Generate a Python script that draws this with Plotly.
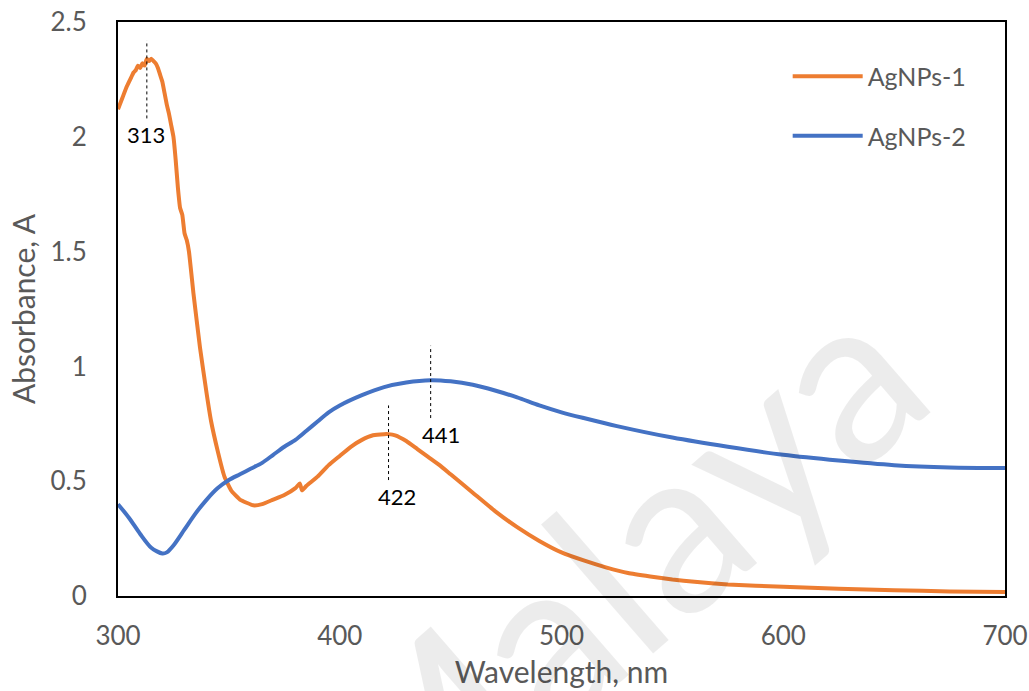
import plotly.graph_objects as go
import numpy as np

# ---------------- data ----------------
wl_1 = [300, 302, 304, 306, 307, 308, 309, 310, 311, 312, 313, 314, 315, 316, 317, 318, 319, 320,
        321, 322, 323, 324, 325, 326, 327, 328, 329, 330, 331, 332, 334, 337, 340, 342, 345, 348,
        351, 355, 361, 365, 370, 375, 380, 382, 383, 385, 390, 395, 400, 405, 410, 415, 420, 422,
        425, 430, 435, 440, 445, 450, 460, 470, 480, 490, 500, 510, 520, 530, 540, 550, 560, 575,
        600, 625, 650, 675, 700]
abs_1 = [2.12, 2.17, 2.22, 2.26, 2.28, 2.29, 2.31, 2.30, 2.32, 2.31, 2.34, 2.33, 2.34, 2.33, 2.32, 2.30, 2.27, 2.24,
         2.19, 2.14, 2.10, 2.05, 2.00, 1.90, 1.78, 1.69, 1.66, 1.58, 1.55, 1.50, 1.32, 1.08, 0.88, 0.76, 0.63, 0.52,
         0.46, 0.42, 0.395, 0.40, 0.42, 0.44, 0.47, 0.49, 0.46, 0.48, 0.52, 0.57, 0.61, 0.65, 0.68, 0.70, 0.705, 0.705,
         0.70, 0.675, 0.64, 0.605, 0.57, 0.53, 0.45, 0.37, 0.30, 0.24, 0.19, 0.155, 0.125, 0.10, 0.085, 0.072, 0.062, 0.05,
         0.04, 0.032, 0.025, 0.02, 0.017]

wl_2 = [300, 305, 310, 315, 320, 322, 325, 330, 335, 340, 345, 350, 355, 360, 365, 370, 375, 380, 385,
        390, 395, 400, 410, 420, 430, 441, 450, 460, 470, 480, 490, 500, 510, 525, 550, 575, 600, 625,
        650, 675, 700]
abs_2 = [0.40, 0.34, 0.27, 0.21, 0.185, 0.19, 0.22, 0.29, 0.36, 0.42, 0.47, 0.505, 0.53, 0.555, 0.58, 0.615, 0.65, 0.68, 0.72,
         0.76, 0.80, 0.83, 0.875, 0.91, 0.93, 0.94, 0.935, 0.92, 0.895, 0.865, 0.83, 0.80, 0.775, 0.74, 0.69, 0.65, 0.615, 0.59,
         0.57, 0.56, 0.557]

series_names = ["AgNPs-1", "AgNPs-2"]
series_colors = ["#ED7D31", "#4472C4"]

peak_wl = [313, 422, 441]
peak_series = [0, 0, 1]
peak_labels = ["313", "422", "441"]
peak_up = [0.08, 0.125, 0.15]      # dashed marker extent above the curve
peak_down = [0.26, 0.20, 0.165]    # dashed marker extent below the curve
peak_label_shift = [-1, 8, 10]

x_ticks = [300, 400, 500, 600, 700]
y_ticks = [0, 0.5, 1, 1.5, 2, 2.5]

FONT = "Lato, Carlito, Calibri, sans-serif"
GREY = "#595959"

fig = go.Figure()
xs = [wl_1, wl_2]
ys = [abs_1, abs_2]
for i in range(2):
    fig.add_trace(go.Scatter(
        x=xs[i], y=ys[i], mode="lines", name=series_names[i],
        legendgroup=series_names[i],
        line=dict(color=series_colors[i], width=4, shape="spline", smoothing=0.4 if i == 0 else 0.8),
    ))

# peak markers
for wl, si, lab, up, dn, sh in zip(peak_wl, peak_series, peak_labels, peak_up, peak_down, peak_label_shift):
    v = float(np.interp(wl, xs[si], ys[si]))
    fig.add_shape(type="line", xref="x", yref="y", x0=wl, x1=wl, y0=v - dn, y1=v + up,
                  line=dict(color="black", width=1, dash="dot"))
    fig.add_annotation(x=wl, y=v - dn, xref="x", yref="y", text=lab, showarrow=False,
                       yanchor="top", xanchor="center", xshift=sh, yshift=-1,
                       font=dict(family=FONT, size=22, color="black"))

# watermark
fig.add_annotation(x=0.553, y=0.04, xref="paper", yref="paper", text="Malaya", showarrow=False,
                   xanchor="center", yanchor="middle",
                   textangle=-41, font=dict(family=FONT, size=232, color="rgba(0,0,0,0.075)"))

fig.update_layout(
    width=1029, height=691,
    margin=dict(l=118, r=24, t=22, b=95, pad=0),
    paper_bgcolor="white", plot_bgcolor="white",
    font=dict(family=FONT, color=GREY, size=26),
    showlegend=True,
    legend=dict(x=0.755, y=0.945, xanchor="left", yanchor="top", bgcolor="rgba(0,0,0,0)",
                font=dict(family=FONT, size=25, color=GREY), itemwidth=70, tracegroupgap=24),
)
fig.update_xaxes(range=[300, 700], tickvals=x_ticks, showgrid=False, zeroline=False, automargin=False,
                 showline=True, linecolor="black", linewidth=2, mirror=True, ticks="",
                 ticklabelstandoff=16, tickfont=dict(size=26, color=GREY),
                 title=dict(text="Wavelength, nm", font=dict(size=30, color=GREY), standoff=12))
fig.update_yaxes(range=[0, 2.5], tickvals=y_ticks, showgrid=False, zeroline=False, automargin=False,
                 showline=True, linecolor="black", linewidth=2, mirror=True, ticks="",
                 ticklabelstandoff=24, tickfont=dict(size=26, color=GREY),
                 title=dict(text="Absorbance, A", font=dict(size=30, color=GREY), standoff=6))

fig.write_html("out.html")
